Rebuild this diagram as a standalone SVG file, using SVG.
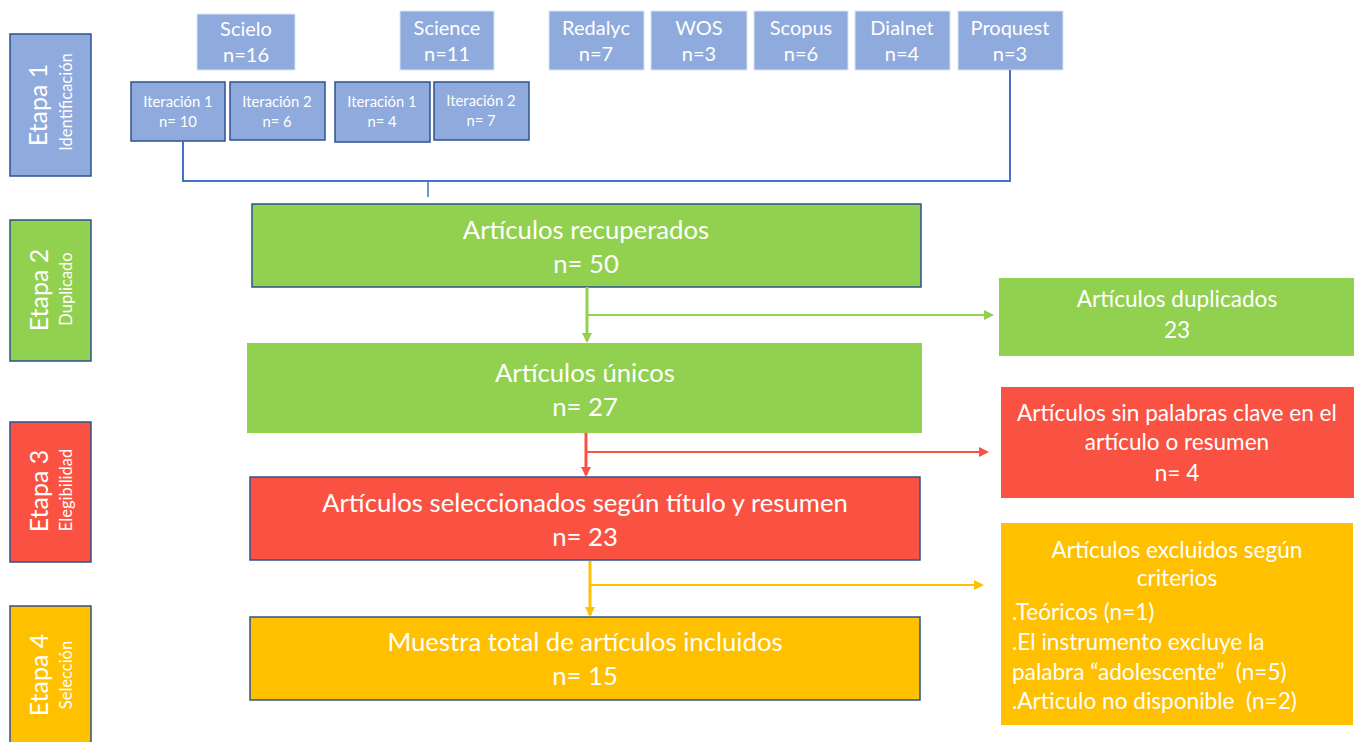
<svg xmlns="http://www.w3.org/2000/svg" width="1355" height="742" viewBox="0 0 1355 742">
<defs>
<style>
text{font-family:Lato,"Open Sans","Liberation Sans",sans-serif;fill:#ffffff;}
.c{text-anchor:middle;}
.blue{fill:#8faadc;}
.bd{stroke:#2f528f;stroke-width:1.5;}
.lt{stroke:#dbe3f3;stroke-width:1;}
.green{fill:#92d050;}
.red{fill:#fa5242;}
.yel{fill:#ffc000;}
.src{font-size:20px;}
.it{font-size:14.8px;}
.big{font-size:25.7px;}
.mid{font-size:22.6px;}
.et{font-size:25px;}
.sub{font-size:16.5px;}
</style>
<marker id="ag" markerWidth="10" markerHeight="10" refX="8" refY="5" orient="auto" markerUnits="userSpaceOnUse"><path d="M0,0 L10,5 L0,10 Z" fill="#92d050"/></marker>
<marker id="ar" markerWidth="10" markerHeight="10" refX="8" refY="5" orient="auto" markerUnits="userSpaceOnUse"><path d="M0,0 L10,5 L0,10 Z" fill="#fa5242"/></marker>
<marker id="ay" markerWidth="10" markerHeight="10" refX="8" refY="5" orient="auto" markerUnits="userSpaceOnUse"><path d="M0,0 L10,5 L0,10 Z" fill="#ffc000"/></marker>
</defs>
<rect width="1355" height="742" fill="#ffffff"/>

<g id="etapa1"><rect class="blue bd" x="10" y="34" width="81" height="142"/>
<text class="c et" transform="translate(47,105) rotate(-90)">Etapa 1</text>
<text class="c sub" transform="translate(72,102) rotate(-90)">Identificación</text></g>
<g id="etapa2"><rect class="green bd" x="10" y="220" width="81" height="141"/>
<text class="c et" transform="translate(48,290) rotate(-90)">Etapa 2</text>
<text class="c sub" transform="translate(72,289) rotate(-90)">Duplicado</text></g>
<g id="etapa3"><rect class="red bd" x="10" y="422" width="81" height="140"/>
<text class="c et" transform="translate(48,491) rotate(-90)">Etapa 3</text>
<text class="c sub" transform="translate(72,490) rotate(-90)">Elegibilidad</text></g>
<g id="etapa4"><rect class="yel bd" x="10" y="606" width="81" height="141"/>
<text class="c et" transform="translate(48,675) rotate(-90)">Etapa 4</text>
<text class="c sub" transform="translate(72,675) rotate(-90)">Selección</text></g>

<g id="scielo"><rect class="blue lt" x="197" y="14" width="98" height="56"/>
<text class="c src" x="246" y="36">Scielo</text><text class="c src" x="246" y="62">n=16</text></g>
<g id="science"><rect class="blue lt" x="400" y="11" width="94" height="59"/>
<text class="c src" x="447" y="35">Science</text><text class="c src" x="447" y="61">n=11</text></g>
<g id="redalyc"><rect class="blue lt" x="549" y="11" width="95" height="59"/>
<text class="c src" x="596" y="35">Redalyc</text><text class="c src" x="596" y="61">n=7</text></g>
<g id="wos"><rect class="blue lt" x="651" y="11" width="96" height="59"/>
<text class="c src" x="699" y="35">WOS</text><text class="c src" x="699" y="61">n=3</text></g>
<g id="scopus"><rect class="blue lt" x="754" y="11" width="94" height="59"/>
<text class="c src" x="801" y="35">Scopus</text><text class="c src" x="801" y="61">n=6</text></g>
<g id="dialnet"><rect class="blue lt" x="855" y="11" width="95" height="59"/>
<text class="c src" x="902" y="35">Dialnet</text><text class="c src" x="902" y="61">n=4</text></g>
<g id="proquest"><rect class="blue lt" x="958" y="11" width="105" height="59"/>
<text class="c src" x="1010" y="35">Proquest</text><text class="c src" x="1010" y="61">n=3</text></g>

<g id="scielo-it1"><rect class="blue bd" x="131" y="82" width="94" height="59"/>
<text class="c it" x="178" y="107">Iteración 1</text><text class="c it" x="178" y="127">n= 10</text></g>
<g id="scielo-it2"><rect class="blue bd" x="230" y="82" width="95" height="58"/>
<text class="c it" x="277" y="107">Iteración 2</text><text class="c it" x="277" y="127">n= 6</text></g>
<g id="science-it1"><rect class="blue bd" x="335" y="82" width="95" height="60"/>
<text class="c it" x="382" y="107">Iteración 1</text><text class="c it" x="382" y="127">n= 4</text></g>
<g id="science-it2"><rect class="blue bd" x="434" y="82" width="95" height="58"/>
<text class="c it" x="481" y="106">Iteración 2</text><text class="c it" x="481" y="126">n= 7</text></g>

<g id="recuperados"><rect class="green bd" x="252" y="204" width="669" height="83"/>
<text class="c big" x="586" y="239">Artículos recuperados</text><text class="c big" x="586" y="273">n= 50</text></g>
<g id="unicos"><rect class="green" x="247" y="343" width="675" height="90"/>
<text class="c big" x="585" y="382">Artículos únicos</text><text class="c big" x="585" y="416">n= 27</text></g>
<g id="seleccionados"><rect class="red bd" x="250" y="477" width="670" height="83"/>
<text class="c big" x="585" y="512">Artículos seleccionados según título y resumen</text><text class="c big" x="585" y="546">n= 23</text></g>
<g id="muestra"><rect class="yel bd" x="250" y="617" width="670" height="83"/>
<text class="c big" x="585" y="651">Muestra total de artículos incluidos</text><text class="c big" x="585" y="685">n= 15</text></g>

<g id="duplicados"><rect class="green" x="999" y="278" width="355" height="78"/>
<text class="c mid" x="1177" y="307">Artículos duplicados</text><text class="c mid" x="1177" y="338">23</text></g>
<g id="sinpalabras"><rect class="red" x="1001" y="387" width="353" height="111"/>
<text class="c mid" x="1177" y="421">Artículos sin palabras clave en el</text><text class="c mid" x="1177" y="450">artículo o resumen</text><text class="c mid" x="1177" y="481">n= 4</text></g>
<g id="excluidos"><rect class="yel" x="1001" y="523" width="352" height="202"/>
<text class="c mid" x="1177" y="558">Artículos excluidos según</text><text class="c mid" x="1177" y="586">criterios</text>
<text class="mid" x="1012" y="620">.Teóricos (n=1)</text>
<text class="mid" x="1012" y="650">.El instrumento excluye la</text>
<text class="mid" x="1012" y="680" xml:space="preserve">palabra “adolescente”  (n=5)</text>
<text class="mid" x="1012" y="709" xml:space="preserve">.Articulo no disponible  (n=2)</text></g>

<g id="connectors" fill="none">
<polyline points="183,141 183,181 1010,181 1010,70" stroke="#4472c4" stroke-width="2"/>
<line x1="428" y1="181" x2="428" y2="197" stroke="#4472c4" stroke-width="1.5"/>
<line x1="587" y1="287" x2="587" y2="341" stroke="#92d050" stroke-width="3" marker-end="url(#ag)"/>
<line x1="588" y1="315" x2="992" y2="315" stroke="#92d050" stroke-width="2" marker-end="url(#ag)"/>
<line x1="586" y1="433" x2="586" y2="475" stroke="#fa5242" stroke-width="3" marker-end="url(#ar)"/>
<line x1="587" y1="452" x2="987" y2="452" stroke="#fa5242" stroke-width="2" marker-end="url(#ar)"/>
<line x1="590" y1="561" x2="590" y2="615" stroke="#ffc000" stroke-width="3" marker-end="url(#ay)"/>
<line x1="591" y1="585" x2="982" y2="585" stroke="#ffc000" stroke-width="2" marker-end="url(#ay)"/>
</g>
</svg>
